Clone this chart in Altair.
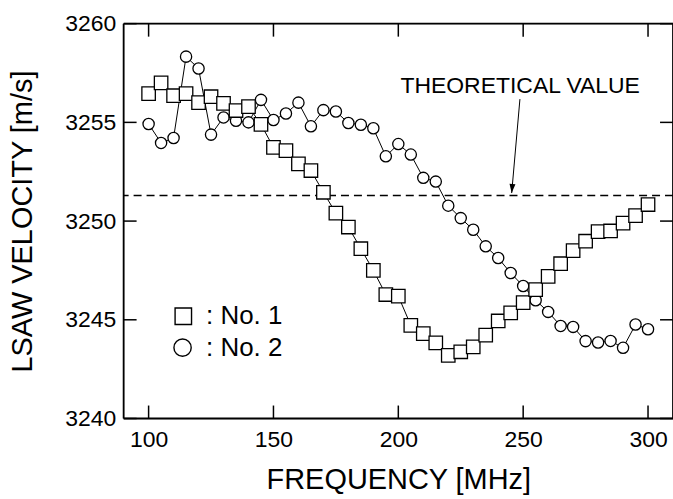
import altair as alt
import pandas as pd

freq = [100, 105, 110, 115, 120, 125, 130, 135, 140, 145, 150, 155, 160, 165,
        170, 175, 180, 185, 190, 195, 200, 205, 210, 215, 220, 225, 230, 235,
        240, 245, 250, 255, 260, 265, 270, 275, 280, 285, 290, 295, 300]

no1 = [3256.46, 3257.00, 3256.35, 3256.46, 3256.00, 3256.30, 3255.96, 3255.60,
       3255.80, 3254.90, 3253.73, 3253.57, 3252.90, 3252.56, 3251.46, 3250.40,
       3249.70, 3248.60, 3247.50, 3246.28, 3246.20, 3244.72, 3244.30, 3243.83,
       3243.20, 3243.38, 3243.63, 3244.22, 3244.94, 3245.35, 3245.87, 3246.53,
       3247.20, 3247.84, 3248.50, 3248.98, 3249.47, 3249.50, 3249.90, 3250.28,
       3250.84]

no2 = [3254.92, 3253.96, 3254.21, 3258.33, 3257.73, 3254.38, 3255.25, 3255.08,
       3255.00, 3256.14, 3255.12, 3255.45, 3256.00, 3254.80, 3255.62, 3255.55,
       3254.97, 3254.88, 3254.70, 3253.28, 3253.90, 3253.37, 3252.19, 3252.00,
       3250.78, 3250.15, 3249.56, 3248.72, 3248.13, 3247.37, 3246.71, 3245.99,
       3245.40, 3244.69, 3244.64, 3243.92, 3243.85, 3243.93, 3243.58, 3244.76,
       3244.52]

theory = 3251.3
x_ticks = [100, 150, 200, 250, 300]
y_ticks = [3240, 3245, 3250, 3255, 3260]

# annotation / legend anchors (data units)
note_text = "THEORETICAL VALUE"
note_pos = (248.8, 3256.48)
arrow_from = (248.7, 3256.18)
arrow_to = (245.4, 3251.42)
legend_sym_x = [113.9, 113.6]
legend_sym_y = [3245.18, 3243.59]
legend_txt_x = [123.0, 123.0]
legend_txt_y = [3244.81, 3243.17]
legend_labels = [": No. 1", ": No. 2"]

FONT = "Liberation Sans"
W, H = 551, 396
TICK = 13

xs = alt.Scale(domain=[90, 310], nice=False, zero=False)
ys = alt.Scale(domain=[3240, 3260], nice=False, zero=False)

xaxis = alt.Axis(values=x_ticks, ticks=False, tickSize=0, domain=False, grid=False,
                 labelFontSize=23, labelPadding=10, labelColor="black", labelFont=FONT,
                 labelFlush=False, format="d", titleFontSize=29, titleFontWeight="normal",
                 titleColor="black", titleFont=FONT, titleY=70,
                 titleBaseline="alphabetic")
yaxis = alt.Axis(values=y_ticks, ticks=False, tickSize=0, domain=False, grid=False,
                 labelFontSize=23, labelPadding=8, labelColor="black", labelFont=FONT,
                 labelFlush=False, format="d", titleFontSize=29, titleFontWeight="normal",
                 titleColor="black", titleFont=FONT, titleX=-92, titleY=H / 2,
                 titleBaseline="alphabetic", titleAlign="center")

XT = "FREQUENCY [MHz]"
YT = "LSAW VELOCITY [m/s]"


def X(f):
    return alt.X(f, type="quantitative", scale=xs, axis=xaxis, title=XT)


def Y(f):
    return alt.Y(f, type="quantitative", scale=ys, axis=yaxis, title=YT)


d1 = pd.DataFrame({"f": freq, "v": no1})
d2 = pd.DataFrame({"f": freq, "v": no2})

theory_rule = alt.Chart(pd.DataFrame({"v": [theory]})).mark_rule(
    color="black", strokeWidth=1.5, strokeDash=[8, 5]).encode(y=Y("v"))

line2 = alt.Chart(d2).mark_line(color="black", strokeWidth=1).encode(x=X("f"), y=Y("v"))
pts2 = alt.Chart(d2).mark_point(shape="circle", size=127, filled=True, fill="white",
                                stroke="black", strokeWidth=1.3, opacity=1).encode(
    x=X("f"), y=Y("v"))
line1 = alt.Chart(d1).mark_line(color="black", strokeWidth=1).encode(x=X("f"), y=Y("v"))
pts1 = alt.Chart(d1).mark_point(shape="square", size=182, filled=True, fill="white",
                                stroke="black", strokeWidth=1.3, opacity=1).encode(
    x=X("f"), y=Y("v"))

note = alt.Chart(pd.DataFrame({"f": [note_pos[0]], "v": [note_pos[1]], "t": [note_text]})).mark_text(
    font=FONT, fontSize=23, align="center", baseline="alphabetic", color="black").encode(
    x=X("f"), y=Y("v"), text="t:N")

arrow = alt.Chart(pd.DataFrame({"f": [arrow_from[0]], "v": [arrow_from[1]],
                                "f2": [arrow_to[0]], "v2": [arrow_to[1]]})).mark_rule(
    color="black", strokeWidth=1).encode(x=X("f"), y=Y("v"), x2="f2", y2="v2")
head = alt.Chart(pd.DataFrame({"f": [arrow_to[0]], "v": [arrow_to[1]]})).mark_point(
    shape="M0,0 L-0.33,-1 L0.33,-1 Z", size=324, angle=5, filled=True, color="black",
    opacity=1).encode(x=X("f"), y=Y("v"))

leg_sym = pd.DataFrame({"f": legend_sym_x, "v": legend_sym_y})
leg_sq = alt.Chart(leg_sym.iloc[[0]]).mark_point(shape="square", size=272, filled=True,
                                                  fill="white", stroke="black",
                                                  strokeWidth=1.4, opacity=1).encode(
    x=X("f"), y=Y("v"))
leg_ci = alt.Chart(leg_sym.iloc[[1]]).mark_point(shape="circle", size=300, filled=True,
                                                  fill="white", stroke="black",
                                                  strokeWidth=1.4, opacity=1).encode(
    x=X("f"), y=Y("v"))
leg_txt = alt.Chart(pd.DataFrame({"f": legend_txt_x, "v": legend_txt_y, "t": legend_labels})).mark_text(
    font=FONT, fontSize=26, align="left", baseline="alphabetic", color="black").encode(
    x=X("f"), y=Y("v"), text="t:N")

# inward ticks on all four sides
xt = pd.DataFrame({"f": x_ticks})
yt = pd.DataFrame({"v": y_ticks})
tick_bottom = alt.Chart(xt).mark_rule(color="black", strokeWidth=1.5).encode(
    x=X("f"), y=alt.value(H), y2=alt.value(H - TICK))
tick_top = alt.Chart(xt).mark_rule(color="black", strokeWidth=1.5).encode(
    x=X("f"), y=alt.value(0), y2=alt.value(TICK))
tick_left = alt.Chart(yt).mark_rule(color="black", strokeWidth=1.5).encode(
    y=Y("v"), x=alt.value(0), x2=alt.value(TICK))
tick_right = alt.Chart(yt).mark_rule(color="black", strokeWidth=1.5).encode(
    y=Y("v"), x=alt.value(W), x2=alt.value(W - TICK))

# plot frame
frame_src = pd.DataFrame({"k": [0]})
fr_top = alt.Chart(frame_src).mark_rule(color="black", strokeWidth=1.8).encode(
    x=alt.value(0), x2=alt.value(W), y=alt.value(0))
fr_bot = alt.Chart(frame_src).mark_rule(color="black", strokeWidth=1.8).encode(
    x=alt.value(0), x2=alt.value(W), y=alt.value(H))
fr_left = alt.Chart(frame_src).mark_rule(color="black", strokeWidth=1.8).encode(
    y=alt.value(0), y2=alt.value(H), x=alt.value(0))
fr_right = alt.Chart(frame_src).mark_rule(color="black", strokeWidth=1.8).encode(
    y=alt.value(0), y2=alt.value(H), x=alt.value(W))

chart = alt.layer(
    theory_rule, tick_bottom, tick_top, tick_left, tick_right,
    fr_top, fr_bot, fr_left, fr_right,
    line2, pts2, line1, pts1, note, arrow, head, leg_sq, leg_ci, leg_txt
).properties(
    width=W, height=H,
    padding={"left": 124, "top": 23, "right": 0, "bottom": 80},
    autosize=alt.AutoSizeParams(type="none"),
    background="white",
).configure_view(strokeWidth=0, stroke=None).configure(font=FONT)

chart.save("out.html", embed_options={"renderer": "svg", "actions": False})
